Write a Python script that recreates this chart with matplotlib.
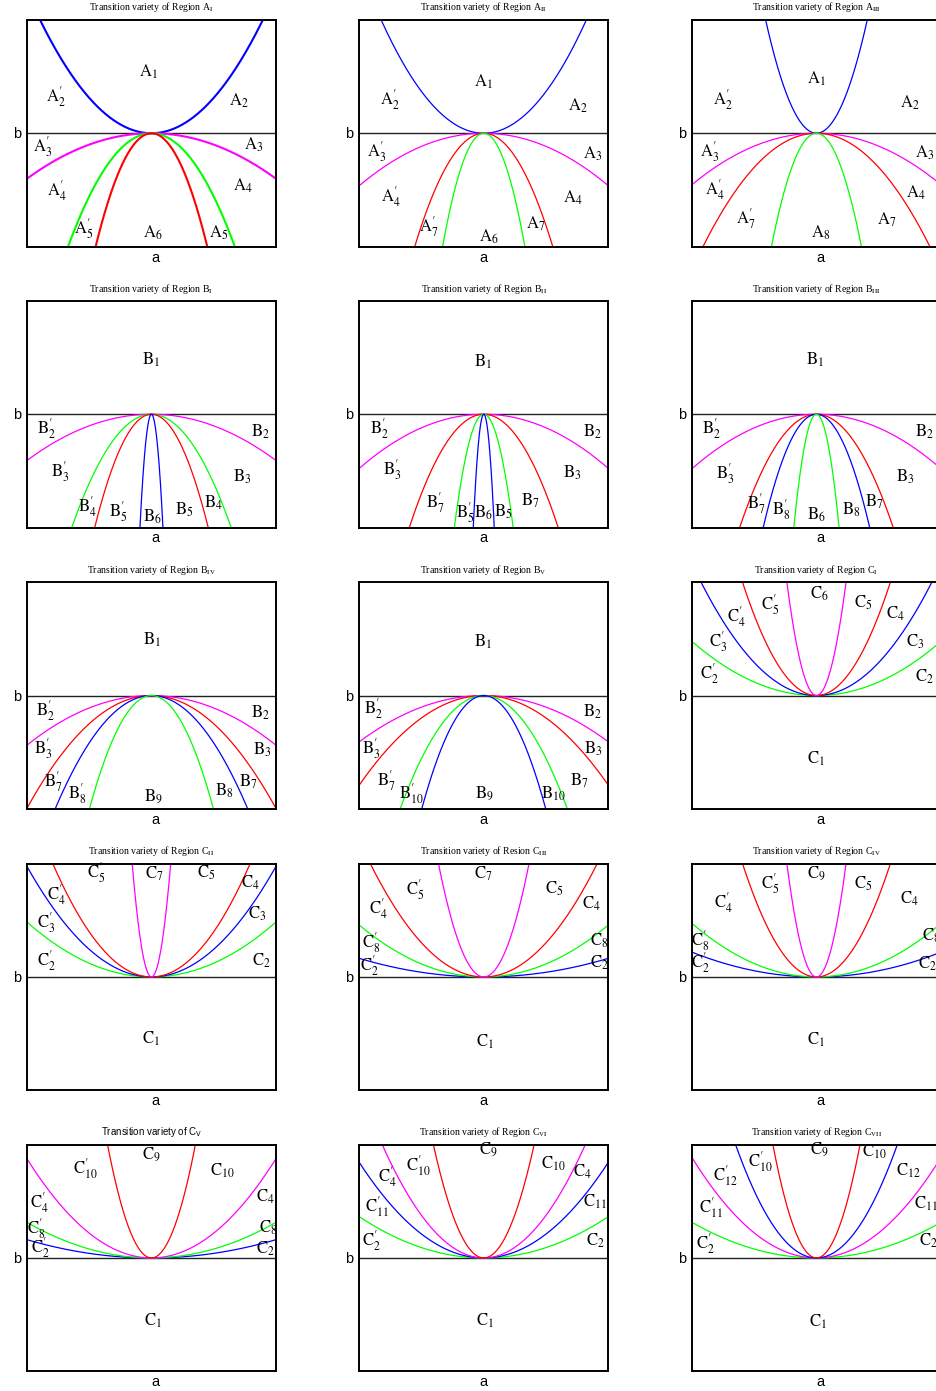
import numpy as np
import matplotlib
matplotlib.use("Agg")
import matplotlib.pyplot as plt

plt.rcParams['mathtext.fontset'] = 'stix'
plt.rcParams['font.family'] = ['Liberation Serif', 'DejaVu Serif']

# ---------------- DATA: parabola coefficients b = k * a^2 ----------------
titles = [
    r"Transition variety of Region A$_{\rm I}$",
    r"Transition variety of Region A$_{\rm II}$",
    r"Transition variety of Region A$_{\rm III}$",
    r"Transition variety of Region B$_{\rm I}$",
    r"Transition variety of Region B$_{\rm II}$",
    r"Transition variety of Region B$_{\rm III}$",
    r"Transition variety of Region B$_{\rm IV}$",
    r"Transition variety of Region B$_{\rm V}$",
    r"Transition variety of Region C$_{\rm I}$",
    r"Transition variety of Region C$_{\rm II}$",
    r"Transition variety of Resion C$_{\rm III}$",
    r"Transition variety of Region C$_{\rm IV}$",
    r"Transition variety of C$_{\rm V}$",
    r"Transition variety of Region C$_{\rm VI}$",
    r"Transition variety of Region C$_{\rm VII}$",
]

coef_A_I = [1.255, -0.403, -2.24, -5.0]
coef_A_II = [1.48, -0.465, -3.27, -9.2]
coef_A_III = [6.03, -0.456, -1.21, -7.7]
coef_B_I = [-0.41, -2.45, -4.83, -117.6]
coef_B_II = [-0.48, -2.81, -18.0, -141.0]
coef_B_III = [-0.483, -2.64, -5.49, -30.4]
coef_B_IV = [-0.44, -1.0, -1.68, -4.05]
coef_B_V = [-0.41, -0.794, -2.23, -4.05]
coef_C_I = [0.48, 1.17, 2.85, 17.8]
coef_C_II = [0.487, 0.98, 1.6, 42.0]
coef_C_III = [0.165, 0.46, 1.21, 7.6]
coef_C_IV = [0.22, 0.475, 2.85, 17.8]
coef_C_V = [0.162, 0.316, 0.88, 8.07]
coef_C_VI = [0.366, 0.847, 1.51, 6.13]
coef_C_VII = [0.316, 0.89, 2.38, 8.2]

labels_A_I = ["A1", "A2'", "A2", "A3'", "A3", "A4'", "A4", "A5'", "A6", "A5"]
labels_A_II = ["A1", "A2'", "A2", "A3'", "A3", "A4'", "A4", "A7'", "A6", "A7"]
labels_A_III = ["A1", "A2'", "A2", "A3'", "A3", "A4'", "A4", "A7'", "A8", "A7"]
labels_B_I = ["B1", "B2'", "B2", "B3'", "B3", "B4'", "B5'", "B6", "B5", "B4"]
labels_B_II = ["B1", "B2'", "B2", "B3'", "B3", "B7'", "B5'", "B6", "B5", "B7"]
labels_B_III = ["B1", "B2'", "B2", "B3'", "B3", "B7'", "B8'", "B6", "B8", "B7"]
labels_B_IV = ["B1", "B2'", "B2", "B3'", "B3", "B7'", "B8'", "B9", "B8", "B7"]
labels_B_V = ["B1", "B2'", "B2", "B3'", "B3", "B7'", "B10'", "B9", "B10", "B7"]
labels_C_I = ["C6", "C5'", "C5", "C4'", "C4", "C3'", "C3", "C2'", "C2", "C1"]
labels_C_II = ["C7", "C5'", "C5", "C4'", "C4", "C3'", "C3", "C2'", "C2", "C1"]
labels_C_III = ["C7", "C5'", "C5", "C4'", "C4", "C8'", "C8", "C2'", "C2", "C1"]
labels_C_IV = ["C9", "C5'", "C5", "C4'", "C4", "C8'", "C8", "C2'", "C2", "C1"]
labels_C_V = ["C9", "C10'", "C10", "C4'", "C4", "C8'", "C8", "C2'", "C2", "C1"]
labels_C_VI = ["C9", "C10'", "C10", "C4'", "C4", "C11'", "C11", "C2'", "C2", "C1"]
labels_C_VII = ["C9", "C10'", "C10", "C12'", "C12", "C11'", "C11", "C2'", "C2", "C1"]

# ---------------- STYLE / LAYOUT ----------------
BL, MG, GR, RD = '#0000ff', '#ff00ff', '#00ff00', '#ff0000'
colors = [
    [BL, MG, GR, RD], [BL, MG, RD, GR], [BL, MG, RD, GR],
    [MG, GR, RD, BL], [MG, RD, GR, BL], [MG, RD, BL, GR],
    [MG, RD, BL, GR], [MG, RD, GR, BL], [GR, BL, RD, MG],
    [GR, BL, RD, MG], [BL, GR, RD, MG], [BL, GR, RD, MG],
    [BL, GR, MG, RD], [GR, BL, MG, RD], [GR, MG, BL, RD],
]

pos_A_I = [(-0.02, 0.54), (-0.765, 0.32), (0.70, 0.29), (-0.87, -0.12), (0.82, -0.10),
           (-0.76, -0.51), (0.73, -0.46), (-0.54, -0.84), (0.01, -0.88), (0.54, -0.88)]
pos_A_II = [(-0.006, 0.455), (-0.752, 0.294), (0.754, 0.24), (-0.858, -0.162), (0.87, -0.183),
            (-0.746, -0.56), (0.714, -0.574), (-0.438, -0.824), (0.04, -0.918), (0.414, -0.80)]
pos_A_III = [(0.0, 0.485), (-0.747, 0.294), (0.747, 0.265), (-0.853, -0.16), (0.867, -0.176),
             (-0.813, -0.50), (0.80, -0.53), (-0.565, -0.75), (0.035, -0.88), (0.56, -0.765)]
pos_B_I = [(-0.005, 0.48), (-0.84, -0.124), (0.87, -0.153), (-0.73, -0.507), (0.725, -0.55),
           (-0.51, -0.815), (-0.265, -0.86), (0.008, -0.904), (0.265, -0.845), (0.497, -0.786)]
pos_B_II = [(-0.005, 0.46), (-0.838, -0.124), (0.87, -0.154), (-0.73, -0.49), (0.71, -0.52),
            (-0.39, -0.78), (-0.15, -0.87), (-0.005, -0.87), (0.155, -0.86), (0.376, -0.76)]
pos_B_III = [(-0.013, 0.48), (-0.84, -0.124), (0.867, -0.153), (-0.733, -0.52), (0.715, -0.55),
             (-0.485, -0.786), (-0.28, -0.845), (0.0, -0.89), (0.28, -0.845), (0.467, -0.77)]
pos_B_IV = [(0.003, 0.49), (-0.853, -0.13), (0.872, -0.153), (-0.866, -0.47), (0.885, -0.48),
            (-0.786, -0.764), (-0.594, -0.867), (0.016, -0.897), (0.583, -0.838), (0.778, -0.764)]
pos_B_V = [(-0.005, 0.474), (-0.886, -0.115), (0.87, -0.145), (-0.90, -0.47), (0.88, -0.47),
           (-0.78, -0.75), (-0.58, -0.867), (0.008, -0.867), (0.555, -0.867), (0.77, -0.75)]
pos_C_I = [(0.021, 0.90), (-0.373, 0.80), (0.373, 0.82), (-0.64, 0.696), (0.635, 0.726),
           (-0.787, 0.475), (0.795, 0.475), (-0.86, 0.195), (0.867, 0.165), (0.0, -0.557)]
pos_C_II = [(0.02, 0.91), (-0.44, 0.923), (0.44, 0.923), (-0.76, 0.73), (0.79, 0.835),
            (-0.84, 0.48), (0.845, 0.555), (-0.84, 0.14), (0.885, 0.14), (-0.005, -0.55)]
pos_C_III = [(-0.005, 0.908), (-0.552, 0.775), (0.563, 0.775), (-0.845, 0.60), (0.86, 0.642),
             (-0.90, 0.30), (0.928, 0.319), (-0.92, 0.097), (0.928, 0.127), (0.008, -0.575)]
pos_C_IV = [(0.0, 0.91), (-0.373, 0.82), (0.373, 0.82), (-0.747, 0.658), (0.747, 0.687),
            (-0.933, 0.319), (0.92, 0.363), (-0.933, 0.127), (0.893, 0.112), (0.0, -0.557)]
pos_C_V = [(0.0, 0.906), (-0.53, 0.788), (0.57, 0.773), (-0.90, 0.493), (0.91, 0.537),
           (-0.925, 0.263), (0.94, 0.27), (-0.89, 0.094), (0.91, 0.08), (0.01, -0.555)]
pos_C_VI = [(0.035, 0.95), (-0.526, 0.818), (0.555, 0.83), (-0.77, 0.714), (0.79, 0.758),
            (-0.858, 0.45), (0.888, 0.50), (-0.898, 0.154), (0.896, 0.154), (0.008, -0.554)]
pos_C_VII = [(0.027, 0.95), (-0.453, 0.847), (0.467, 0.935), (-0.733, 0.729), (0.733, 0.773),
             (-0.848, 0.448), (0.88, 0.478), (-0.893, 0.124), (0.90, 0.153), (0.013, -0.563)]

coefs = [coef_A_I, coef_A_II, coef_A_III, coef_B_I, coef_B_II, coef_B_III, coef_B_IV,
         coef_B_V, coef_C_I, coef_C_II, coef_C_III, coef_C_IV, coef_C_V, coef_C_VI, coef_C_VII]
labels = [labels_A_I, labels_A_II, labels_A_III, labels_B_I, labels_B_II, labels_B_III,
          labels_B_IV, labels_B_V, labels_C_I, labels_C_II, labels_C_III, labels_C_IV,
          labels_C_V, labels_C_VI, labels_C_VII]
positions = [pos_A_I, pos_A_II, pos_A_III, pos_B_I, pos_B_II, pos_B_III, pos_B_IV, pos_B_V,
             pos_C_I, pos_C_II, pos_C_III, pos_C_IV, pos_C_V, pos_C_VI, pos_C_VII]


def mk(s):
    letter = s[0]
    rest = s[1:]
    prime = rest.endswith("'")
    num = rest.rstrip("'")
    sup = r"^{\prime}" if prime else ""
    return r"$\mathrm{%s}_{%s}%s$" % (letter, num, sup)


W, H = 937, 1391
fig = plt.figure(figsize=(W / 100, H / 100), dpi=100)

col_left = [26.7, 359.0, 691.7]
row_top = [20.0, 301.0, 582.3, 863.7, 1144.7]
pw, ph = 249.5, 226.5
a_dx = [4, 0, 4]

xs = np.linspace(-1, 1, 4001)
for i in range(15):
    r, c = divmod(i, 3)
    ax = fig.add_axes([col_left[c] / W, 1 - (row_top[r] + ph) / H, pw / W, ph / H])
    ax.set_xlim(-1, 1)
    ax.set_ylim(-1, 1)
    ax.set_xticks([])
    ax.set_yticks([])
    for sp in ax.spines.values():
        sp.set_linewidth(1.4)
        sp.set_color('black')
    ax.axhline(0, color='#222222', lw=1.0, zorder=1)
    lw = 1.5 if i == 0 else 0.9
    for k, colr in zip(coefs[i], colors[i]):
        ax.plot(xs, k * xs ** 2, color=colr, lw=lw, zorder=2)
    for lab, (u, v) in zip(labels[i], positions[i]):
        ax.text(u, v, mk(lab), fontsize=12, ha='center', va='center', zorder=3)
    px = 2.0 / pw
    py = 2.0 / ph
    if i == 12:
        ax.text(0, 1 + 12.5 * py, titles[i], ha='center', va='center', fontsize=7,
                family='Liberation Sans', math_fontfamily='dejavusans', clip_on=False)
    else:
        ax.text(0, 1 + 12.5 * py, titles[i], ha='center', va='center', fontsize=7,
                clip_on=False)
    ax.text(-1 - 10 * px, -0.01, 'b', ha='center', va='center', fontsize=10.5,
            family='Liberation Sans', clip_on=False)
    ax.text(a_dx[c] * px, -1 - 11 * py, 'a', ha='center', va='center', fontsize=10.5,
            family='Liberation Sans', clip_on=False)

fig.savefig('out.png', dpi=100)
